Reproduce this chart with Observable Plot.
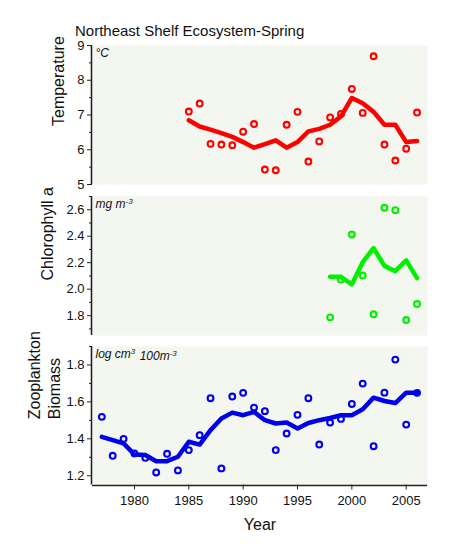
<!DOCTYPE html>
<html>
<head>
<meta charset="utf-8">
<script src="https://cdn.jsdelivr.net/npm/d3@7"></script>
<script src="https://cdn.jsdelivr.net/npm/@observablehq/plot@0.6"></script>
<style>
  html, body { margin: 0; padding: 0; background: #fff; }
  #wrap { position: relative; width: 450px; height: 558px; font-family: "Liberation Sans", Arial, sans-serif; }
  #title { position: absolute; left: 75px; top: 23px; font-size: 15px; line-height: 15px; color: #111; white-space: nowrap; z-index: 2; }
  .panel { position: absolute; left: 0; }
</style>
</head>
<body>
<div id="wrap">
  <div id="title">Northeast Shelf Ecosystem-Spring</div>
</div>
<script>
// ---- data ----
const tempYears = [1985,1986,1987,1988,1989,1990,1991,1992,1993,1994,1995,1996,1997,1998,1999,2000,2001,2002,2003,2004,2005,2006];
const tempObs   = [7.10,7.33,6.17,6.15,6.13,6.52,6.74,5.43,5.41,6.72,7.09,5.66,6.24,6.93,7.03,7.75,7.06,8.69,6.15,5.69,6.03,7.07];
const tempSmooth= [6.85,6.67,6.58,6.48,6.37,6.22,6.06,6.16,6.27,6.06,6.22,6.53,6.60,6.72,6.96,7.49,7.34,7.09,6.72,6.72,6.22,6.25];

const chlYears  = [1998,1999,2000,2001,2002,2003,2004,2005,2006];
const chlObs    = [1.787,2.072,2.413,2.103,1.810,2.615,2.597,1.767,1.888];
const chlSmooth = [2.093,2.093,2.037,2.204,2.310,2.176,2.136,2.217,2.083];

const zooYears  = [1977,1978,1979,1980,1981,1982,1983,1984,1985,1986,1987,1988,1989,1990,1991,1992,1993,1994,1995,1996,1997,1998,1999,2000,2001,2002,2003,2004,2005,2006];
const zooObs    = [1.519,1.308,1.400,1.321,1.297,1.218,1.319,1.229,1.339,1.420,1.620,1.240,1.629,1.649,1.569,1.550,1.339,1.429,1.530,1.620,1.369,1.488,1.508,1.589,1.699,1.360,1.650,1.829,1.477,1.649];
const zooSmooth = [1.411,1.393,1.375,1.315,1.312,1.279,1.279,1.303,1.384,1.369,1.447,1.510,1.542,1.528,1.546,1.501,1.483,1.488,1.456,1.486,1.501,1.513,1.528,1.528,1.560,1.623,1.605,1.594,1.650,1.650];

const tempTicks = [5,6,7,8,9];
const tempMinor = [5.5,6.5,7.5,8.5];
const chlTicks  = [1.8,2.0,2.2,2.4,2.6];
const chlMinor  = [1.7,1.9,2.1,2.3,2.5,2.7];
const zooTicks  = [1.2,1.4,1.6,1.8];
const zooMinor  = [1.3,1.5,1.7,1.9];
const yearTicks = [1980,1985,1990,1995,2000,2005];

// ---- layout ----
const xDomain = [1976.14, 2006.96];
const W = 450, ML = 92, MR = 23;
const FONT = "Liberation Sans, Arial, sans-serif";
const BG = "#f4f6f0";
const AX = "#222";

function panel({years, obs, smooth, color, yDomain, ticks, minor, fmt, unit, label, labelDx, labelDy, top, height, mt, mb, showX}) {
  const obsData = years.map((y, i) => ({year: y, v: obs[i]}));
  const smData = years.map((y, i) => ({year: y, v: smooth[i]}));
  const marks = [
    Plot.frame({fill: BG, stroke: "none"}),
    Plot.axisY({ticks, tickSize: 5, tickPadding: 3, tickFormat: fmt, fontSize: 13, label: null, stroke: AX, color: "#111"}),
    Plot.axisY({ticks: minor, tickSize: 3, text: null, label: null, stroke: AX}),
    Plot.ruleX([xDomain[0]], {stroke: AX, strokeWidth: 1.6, dx: -1}),
    Plot.line(smData, {x: "year", y: "v", stroke: color, strokeWidth: 4.5, strokeLinejoin: "round"}),
    Plot.dot(obsData, {x: "year", y: "v", r: 2.9, stroke: color, strokeWidth: 2.1, fill: "none"}),
    Plot.text([unit], {frameAnchor: "top-left", text: d => d, dx: 3, dy: 3, lineAnchor: "top", fontSize: 12, fontStyle: "italic", fill: "#111"}),
    Plot.text([label], {frameAnchor: "left", text: d => d, rotate: -90, dx: labelDx, dy: labelDy, fontSize: 16, lineHeight: 1.25, fill: "#111"})
  ];
  if (showX) {
    marks.push(Plot.ruleY([yDomain[0]], {stroke: AX, strokeWidth: 1.6, dy: 0.5}));
    marks.push(Plot.axisX({ticks: yearTicks, tickSize: 5, tickPadding: 6, tickFormat: d => String(d), fontSize: 13, label: null, stroke: AX, color: "#111"}));
    marks.push(Plot.text(["Year"], {frameAnchor: "bottom", text: d => d, dy: 45, lineAnchor: "bottom", fontSize: 16, fill: "#111"}));
  }
  const svg = Plot.plot({
    width: W, height,
    marginLeft: ML, marginRight: MR, marginTop: mt, marginBottom: mb,
    style: {fontFamily: FONT, background: "transparent", overflow: "visible"},
    x: {domain: xDomain, axis: null},
    y: {domain: yDomain},
    marks
  });
  svg.classList.add("panel");
  svg.style.top = top + "px";
  // superscripts in unit labels
  d3.select(svg).selectAll("text").each(function() {
    const t = this.textContent;
    if (t.includes("^")) {
      const parts = t.split(/(\^[-\d]+)/).filter(s => s.length);
      const sel = d3.select(this);
      sel.text(null);
      parts.forEach(p => {
        if (p.startsWith("^")) {
          sel.append("tspan").attr("dy", "-0.5em").attr("font-size", "8px").text(p.slice(1));
          sel.append("tspan").attr("dy", "0.5em").attr("font-size", "12px").text("\u200a");
        } else {
          sel.append("tspan").text(p);
        }
      });
    }
  });
  document.getElementById("wrap").appendChild(svg);
}

panel({years: tempYears, obs: tempObs, smooth: tempSmooth, color: "#ff0000",
  yDomain: [5, 9], ticks: tempTicks, minor: tempMinor, fmt: d => String(d),
  unit: "°C", label: "Temperature", labelDx: -34.5, labelDy: 11,
  top: 0, height: 190, mt: 45, mb: 6, showX: false});

panel({years: chlYears, obs: chlObs, smooth: chlSmooth, color: "#00f000",
  yDomain: [1.65, 2.70], ticks: chlTicks, minor: chlMinor, fmt: d => d.toFixed(1),
  unit: "mg m^-3", label: "Chlorophyll a", labelDx: -46, labelDy: 14.5,
  top: 190, height: 150, mt: 6, mb: 5, showX: false});

panel({years: zooYears, obs: zooObs, smooth: zooSmooth, color: "#0000ee",
  yDomain: [1.15, 1.9], ticks: zooTicks, minor: zooMinor, fmt: d => d.toFixed(1),
  unit: "log cm^3 100m^-3", label: "Zooplankton\nBiomass", labelDx: -49, labelDy: 3.5,
  top: 340, height: 218, mt: 6, mb: 73.5, showX: true});
</script>
</body>
</html>
